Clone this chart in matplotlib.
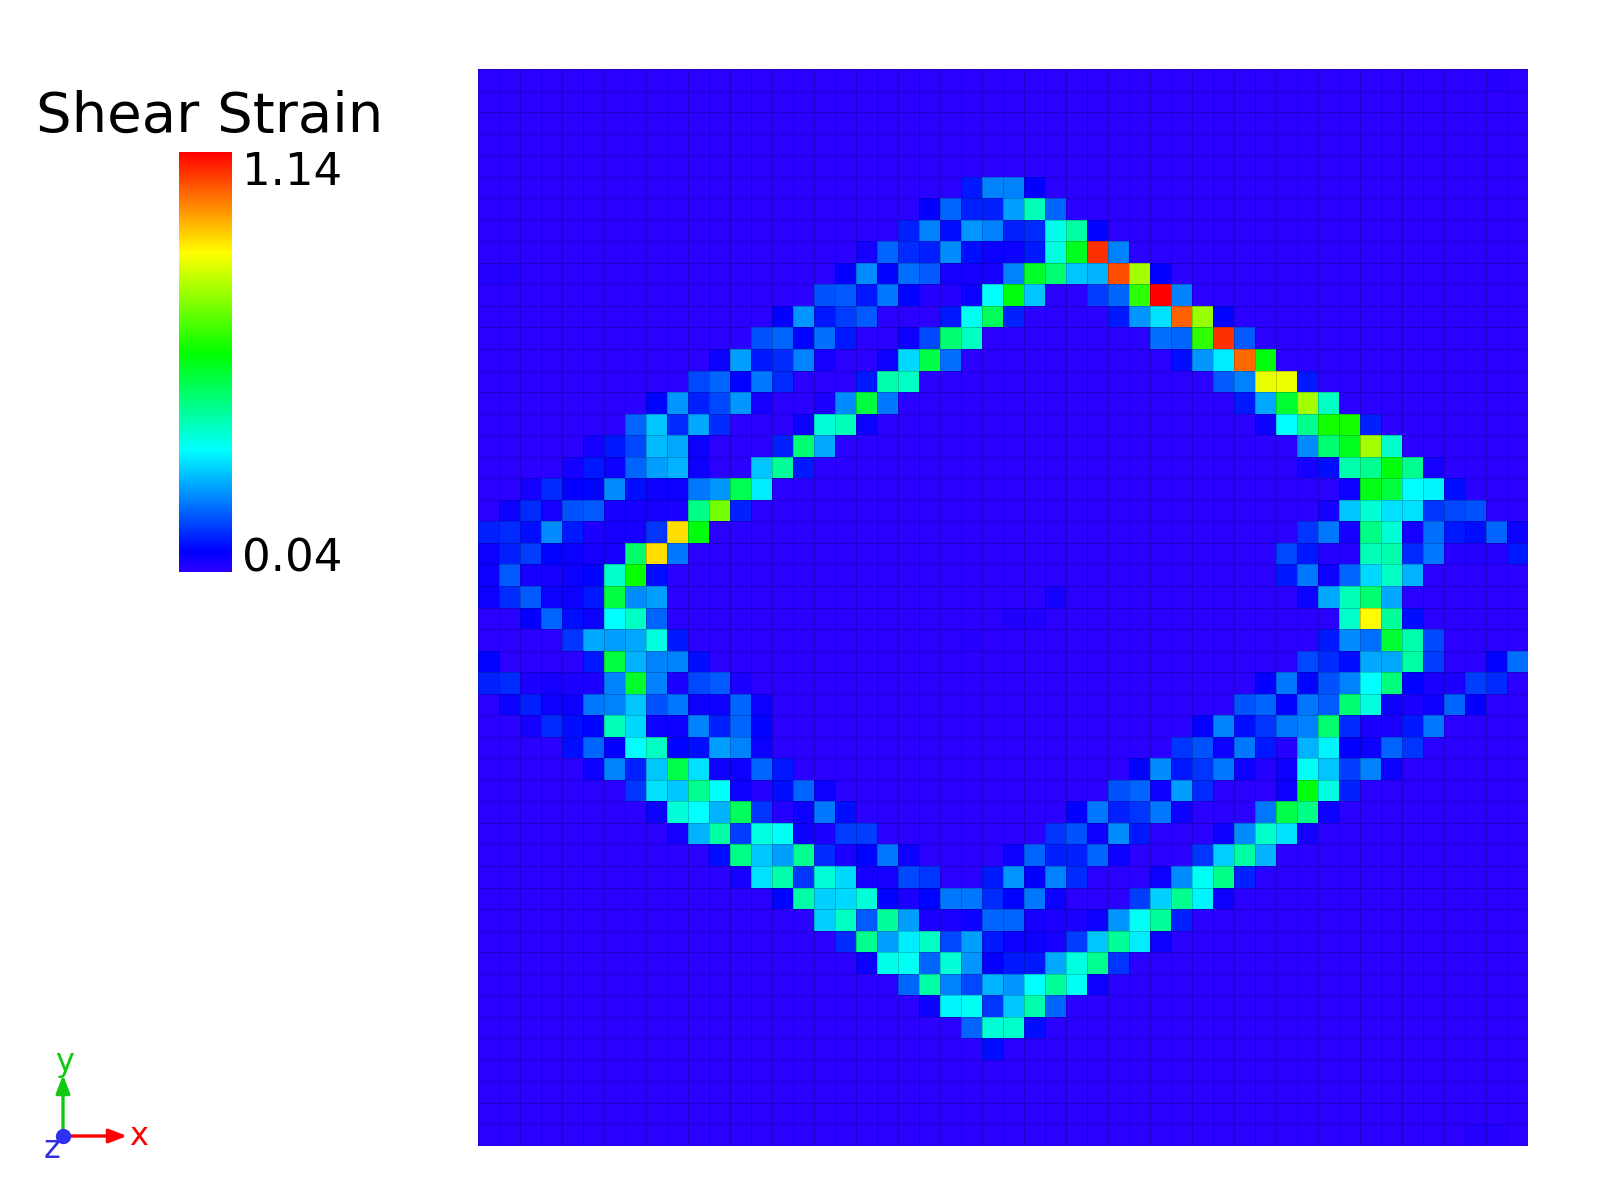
import numpy as np
import matplotlib
matplotlib.use('Agg')
import matplotlib.pyplot as plt
from matplotlib.colors import LinearSegmentedColormap, Normalize

# shear strain per cell, rows counted from the top: (first column, values)
r00 = [(48, [.05])]
r05 = [(23, [.12, .23, .23, .09])]
r06 = [(21, [.09, .20, .13, .13, .26, .43, .20])]
r07 = [(20, [.13, .23, .11, .25, .23, .13, .14, .38, .45, .10])]
r08 = [(18, [.07, .20, .14, .13, .24, .11, .08, .08, .12, .39, .58, 1.09, .23])]
r09 = [(0, [.05, .05]), (17, [.09, .24, .10, .21, .19, .07, .07, .07, .23, .57, .50, .30, .28, 1.06, .78, .09])]
r10 = [(16, [.18, .19, .12, .22, .10, .05, .05, .08, .36, .60, .30]), (29, [.16, .20, .66, 1.14, .23])]
r11 = [(14, [.09, .25, .12, .16, .19]), (22, [.12, .37, .52, .13]), (30, [.12, .25, .33, 1.04, .77, .10])]
r12 = [(13, [.18, .20, .10, .21, .12]), (20, [.08, .17, .50, .42]), (32, [.21, .20, .66, 1.09, .19])]
r13 = [(11, [.08, .26, .12, .14, .23, .07]), (19, [.08, .32, .54, .21]), (33, [.11, .25, .34, 1.03, .60])]
r14 = [(10, [.17, .20, .10, .22, .14]), (18, [.12, .44, .42]), (35, [.19, .23, .85, .86, .12])]
r15 = [(8, [.10, .25, .13, .17, .25, .07]), (16, [.06, .24, .55, .22]), (36, [.12, .27, .56, .78, .42])]
r16 = [(7, [.20, .30, .14, .27, .14]), (15, [.08, .40, .43, .08]), (37, [.08, .36, .47, .63, .63, .13])]
r17 = [(5, [.07, .12, .17, .29, .27, .08]), (14, [.13, .50, .27]), (39, [.24, .50, .58, .78, .41])]
r18 = [(4, [.07, .12, .08, .20, .26, .28, .08]), (13, [.30, .46, .12]), (39, [.07, .11, .44, .47, .60, .47, .07])]
r19 = [(2, [.07, .14, .09, .10, .24, .11, .08, .08, .22, .25, .53, .34]), (41, [.08, .59, .55, .36, .35, .11])]
r20 = [(1, [.08, .14, .07, .18, .19, .07, .07, .07, .06, .48, .73, .13]), (40, [.07, .30, .40, .33, .33, .15, .17, .18])]
r21 = [(0, [.13, .14, .11, .24, .12, .06, .07, .07, .15, .91, .60]), (39, [.15, .22, .07, .48, .40, .07, .21, .12, .11, .20, .08])]
r22 = [(0, [.08, .13, .16, .10, .08, .07, .07, .51, .91, .22]), (38, [.17, .12, .05, .05, .43, .44, .14, .22, .05, .05, .05, .12])]
r23 = [(0, [.08, .19, .07, .07, .08, .10, .41, .62, .11]), (38, [.12, .22, .08, .20, .32, .42, .28])]
r24 = [(0, [.08, .14, .19, .08, .08, .12, .55, .24, .26]), (27, [.07]), (39, [.08, .27, .43, .50, .27])]
r25 = [(2, [.09, .20, .11, .08, .36, .42, .20]), (25, [.055, .055]), (41, [.41, .88, .46, .11])]
r26 = [(4, [.15, .27, .26, .27, .39, .12]), (23, [.05]), (40, [.12, .24, .21, .56, .44, .17])]
r27 = [(0, [.10]), (5, [.12, .55, .28, .23, .23, .11]), (39, [.17, .14, .11, .27, .27, .45, .16]), (48, [.10, .21])]
r28 = [(0, [.13, .14, .06, .07, .06, .06, .23, .57, .23, .06, .17, .19, .06]), (37, [.09, .22, .10, .18, .23, .36, .49, .10, .06, .06, .16, .14])]
r29 = [(1, [.08, .13, .08, .08, .22, .23, .30, .18, .22, .08, .08, .20, .08]), (36, [.18, .20, .10, .22, .19, .50, .39, .08, .06, .08, .20, .09])]
r30 = [(2, [.07, .14, .11, .10, .43, .32, .08, .08, .23, .13, .20, .10]), (34, [.09, .23, .11, .15, .22, .23, .50, .14, .06, .06, .12, .22])]
r31 = [(4, [.11, .20, .09, .36, .42, .10, .11, .26, .23, .08]), (33, [.15, .18, .08, .22, .12, .05, .28, .35, .09, .08, .20, .15])]
r32 = [(5, [.08, .23, .13, .30, .54, .33, .08, .08, .20, .12]), (31, [.10, .24, .12, .15, .22, .08, .05, .08, .37, .30, .16, .23, .08])]
r33 = [(7, [.15, .33, .30, .47, .36, .08, .05, .11, .20, .08]), (30, [.18, .20, .08, .26, .14]), (38, [.08, .60, .39, .13])]
r34 = [(8, [.08, .40, .36, .28, .52, .15, .05, .08, .22, .11]), (28, [.09, .22, .13, .15, .22, .08]), (37, [.22, .54, .48, .08])]
r35 = [(9, [.07, .28, .45, .16, .39, .37, .08, .06, .16, .16]), (27, [.15, .18, .08, .24, .12]), (35, [.08, .24, .41, .33, .07])]
r36 = [(11, [.11, .48, .30, .26, .47, .14, .06, .10, .22, .08]), (25, [.08, .20, .13, .13, .20, .08]), (34, [.15, .31, .45, .28])]
r37 = [(12, [.07, .33, .44, .15, .40, .32, .07, .07, .17, .15]), (24, [.12, .25, .09, .23, .14]), (32, [.08, .24, .37, .48, .13])]
r38 = [(14, [.10, .45, .31, .32, .40, .10, .06, .10, .22, .22, .14, .10, .22, .08]), (31, [.16, .31, .47, .35, .08])]
r39 = [(16, [.31, .42, .19, .46, .26, .06, .06, .08, .20, .20, .07, .06, .06, .08, .25, .37, .46, .13])]
r40 = [(17, [.14, .47, .26, .34, .42, .17, .26, .12, .08, .08, .07, .16, .30, .46, .34, .08])]
r41 = [(18, [.08, .38, .37, .20, .40, .25, .09, .12, .12, .27, .39, .47, .15])]
r42 = [(20, [.20, .45, .23, .17, .28, .25, .36, .46, .37, .08])]
r43 = [(21, [.08, .35, .37, .15, .30, .44, .20])]
r44 = [(23, [.20, .40, .41, .11])]
r45 = [(24, [.11])]
r49 = [(47, [.05, .05])]

rows = {0: r00, 5: r05, 6: r06, 7: r07, 8: r08, 9: r09, 10: r10, 11: r11, 12: r12, 13: r13,
        14: r14, 15: r15, 16: r16, 17: r17, 18: r18, 19: r19, 20: r20, 21: r21, 22: r22,
        23: r23, 24: r24, 25: r25, 26: r26, 27: r27, 28: r28, 29: r29, 30: r30, 31: r31,
        32: r32, 33: r33, 34: r34, 35: r35, 36: r36, 37: r37, 38: r38, 39: r39, 40: r40,
        41: r41, 42: r42, 43: r43, 44: r44, 45: r45, 49: r49}

vmin = 0.04
vmax = 1.14
n_cells = 50

strain = np.full((n_cells, n_cells), vmin)
for r, segments in rows.items():
    for start, values in segments:
        strain[r, start:start + len(values)] = values

cmap = LinearSegmentedColormap.from_list('strain', [
    (0.0, '#2a00ff'), (0.05, '#0000ff'), (0.29, '#00ffff'),
    (0.52, '#00ff00'), (0.76, '#ffff00'), (1.0, '#ff0000')], N=512)
norm = Normalize(vmin, vmax)

W, H = 1600, 1200
fig = plt.figure(figsize=(16, 12), dpi=100)


def axes_px(left, top, right, bottom):
    return fig.add_axes([left / W, 1 - bottom / H, (right - left) / W, (bottom - top) / H])


ax = axes_px(478, 69, 1528, 1146)
mesh = ax.pcolormesh(np.arange(n_cells + 1), np.arange(n_cells + 1), strain, cmap=cmap, norm=norm,
                     edgecolors=(0, 0, 0, 0.2), linewidth=0.6)
ax.invert_yaxis()
ax.axis('off')

cax = axes_px(179, 152, 232, 572)
cb = fig.colorbar(mesh, cax=cax)
cb.set_ticks([])
cb.outline.set_visible(False)

# overlay in pixel coordinates for the labels and the axis triad
over = fig.add_axes([0, 0, 1, 1])
over.set_xlim(0, W)
over.set_ylim(H, 0)
over.axis('off')
over.patch.set_alpha(0)

over.text(36, 132, 'Shear Strain', fontsize=40.4, va='baseline', color='black')
over.text(242, 185, '1.14', fontsize=32.4, va='baseline', color='black')
over.text(242, 572, '0.04', fontsize=32.4, va='baseline', color='black')

ox, oy = 63, 1136
over.annotate('', xy=(127, oy), xytext=(ox, oy),
              arrowprops=dict(arrowstyle='-|>,head_length=0.9,head_width=0.35', color='#ff0000',
                              lw=2.4, shrinkA=0, shrinkB=0, mutation_scale=12))
over.annotate('', xy=(ox, 1075), xytext=(ox, oy),
              arrowprops=dict(arrowstyle='-|>,head_length=0.9,head_width=0.35', color='#10c810',
                              lw=2.4, shrinkA=0, shrinkB=0, mutation_scale=12))
over.plot([ox], [oy], 'o', color='#3030f0', ms=10, zorder=5)
over.text(129, 1145, 'x', fontsize=23, color='#ff0000', va='baseline')
over.text(55, 1071, 'y', fontsize=23, color='#10c810', va='baseline')
over.text(44, 1158, 'z', fontsize=23, color='#3030e0', va='baseline')

fig.savefig('out.png', dpi=100)
